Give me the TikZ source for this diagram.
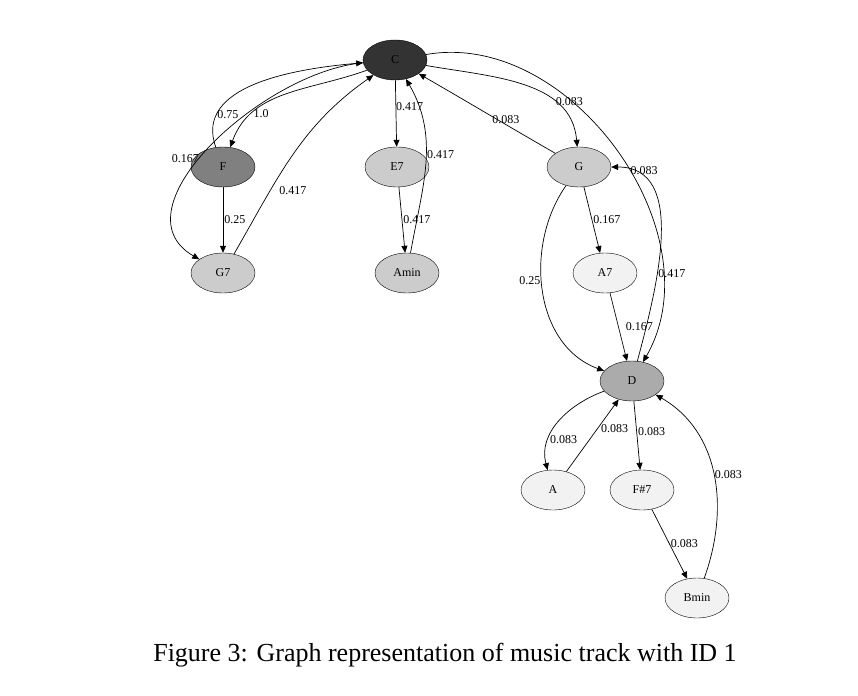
\documentclass[tikz,border=0pt]{standalone}
\usepackage{fontspec}
\setmainfont{Liberation Serif}
\usetikzlibrary{arrows.meta,shapes.geometric}
\begin{document}
\begin{tikzpicture}[x=1pt,y=-1pt,
  nd/.style={draw,ellipse,minimum width=64pt,minimum height=40pt,inner sep=0pt,font=\fontsize{12}{14}\selectfont},
  e/.style={-{Triangle[length=7pt,width=6pt]},line width=0.7pt},
  lb/.style={font=\fontsize{12}{14}\selectfont,inner sep=1pt}]
\useasboundingbox (0,0) rectangle (858,695);
\node[nd,fill=black!80] (C) at (395,60) {C};
\node[nd,fill=black!50] (F) at (223,167) {F};
\node[nd,fill=black!20] (E7) at (397,167) {E7};
\node[nd,fill=black!20] (G) at (579,167) {G};
\node[nd,fill=black!20] (G7) at (223,273) {G7};
\node[nd,fill=black!20] (Amin) at (407,273) {Amin};
\node[nd,fill=black!5] (A7) at (605,273) {A7};
\node[nd,fill=black!33] (D) at (632,381) {D};
\node[nd,fill=black!5] (A) at (553,490) {A};
\node[nd,fill=black!5] (F7) at (642,490) {F\#7};
\node[nd,fill=black!5] (Bmin) at (697,598) {Bmin};
% C cluster left
\draw[e] (C) to[out=200,in=70] node[lb,pos=0.75,right] {1.0} (F);
\draw[e] (F) to[out=110,in=185] node[lb,pos=0.2,right] {0.75} (C);
\draw[e] (C) to[out=185,in=150] node[lb,pos=0.55,left] {0.167} (G7);
\draw[e] (G7) to[out=60,in=215] node[lb,pos=0.3,right=8pt] {0.417} (C);
\draw[e] (F) -- node[lb,right] {0.25} (G7);
\draw[e] (C) -- node[lb,pos=0.4,right=-1pt] {0.417} (E7);
\draw[e] (E7) -- node[lb,right] {0.417} (Amin);
\draw[e] (Amin) to[out=80,in=300] node[lb,pos=0.55,right] {0.417} (C);
% right
\draw[e] (C) to[out=350,in=95] node[lb,pos=0.7,right] {0.083} (G);
\draw[e] (G) to[out=150,in=330] node[lb,pos=0.35,above] {0.083} (C);
\draw[e] (C) to[out=10,in=60] node[lb,pos=0.55,right] {0.083} (D);
\draw[e] (G) -- node[lb,right] {0.167} (A7);
\draw[e] (G) to[out=235,in=160] node[lb,pos=0.45,left] {0.25} (D);
\draw[e] (D) to[out=75,in=0] node[lb,pos=0.35,right] {0.417} (G);
\draw[e] (A7) -- node[lb,pos=0.5,right=6pt] {0.167} (D);
\draw[e] (D) to[out=200,in=105] node[lb,pos=0.7,right] {0.083} (A);
\draw[e] (A) -- node[lb,pos=0.6,right=2pt] {0.083} (D);
\draw[e] (D) -- node[lb,pos=0.45,right] {0.083} (F7);
\draw[e] (F7) -- node[lb,right] {0.083} (Bmin);
\draw[e] (Bmin) to[out=70,in=330] node[lb,pos=0.5,right] {0.083} (D);
\node[font=\fontsize{26}{30}\selectfont,inner sep=0pt] (cap) at (445,655) {Figure 3: Graph representation of music track with ID 1};
\end{tikzpicture}
\end{document}
